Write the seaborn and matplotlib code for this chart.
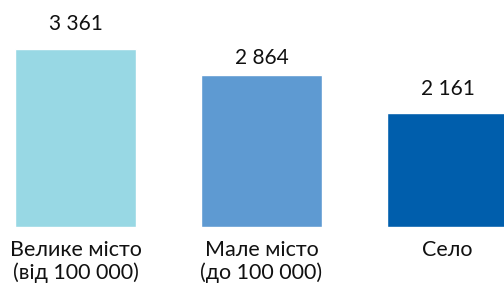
import matplotlib
matplotlib.use("Agg")
import matplotlib.pyplot as plt
import seaborn as sns
import pandas as pd

categories = ["Велике місто\n(від 100 000)", "Мале місто\n(до 100 000)", "Село"]
values = [3361, 2864, 2161]
value_labels = ["3 361", "2 864", "2 161"]
colors = ["#98D8E4", "#5E9AD2", "#005EAC"]
label_offsets_px = [15, 7, 14]

sns.set_theme(style="white")
plt.rcParams["font.family"] = ["Lato", "DejaVu Sans"]

W, H, DPI = 504, 284, 100
fig = plt.figure(figsize=(W / DPI, H / DPI), dpi=DPI)
base_px = 227
ax = fig.add_axes([0, (H - base_px) / H, 1, base_px / H])

df = pd.DataFrame({"cat": categories, "val": values})
sns.barplot(data=df, x="cat", y="val", hue="cat", palette=colors,
            legend=False, width=0.65, ax=ax, saturation=1)

scale = 178 / 3361  # px per unit
ax.set_ylim(0, base_px / scale)
ax.set_xlim(-75.5 / 186, (504 - 75.5) / 186)

for i, (v, lab, off) in enumerate(zip(values, value_labels, label_offsets_px)):
    ax.annotate(lab, (i, v), xytext=(0, off * 72 / DPI), textcoords="offset points",
                ha="center", va="bottom", fontsize=15, color="#111111")

ax.set_xlabel("")
ax.set_ylabel("")
ax.set_yticks([])
ax.tick_params(axis="x", length=0, pad=9, labelsize=15.5, colors="#111111")
for lbl in ax.get_xticklabels():
    lbl.set_linespacing(1.2)
for s in ax.spines.values():
    s.set_visible(False)
ax.patch.set_alpha(0)

fig.savefig("out.png", dpi=DPI)
